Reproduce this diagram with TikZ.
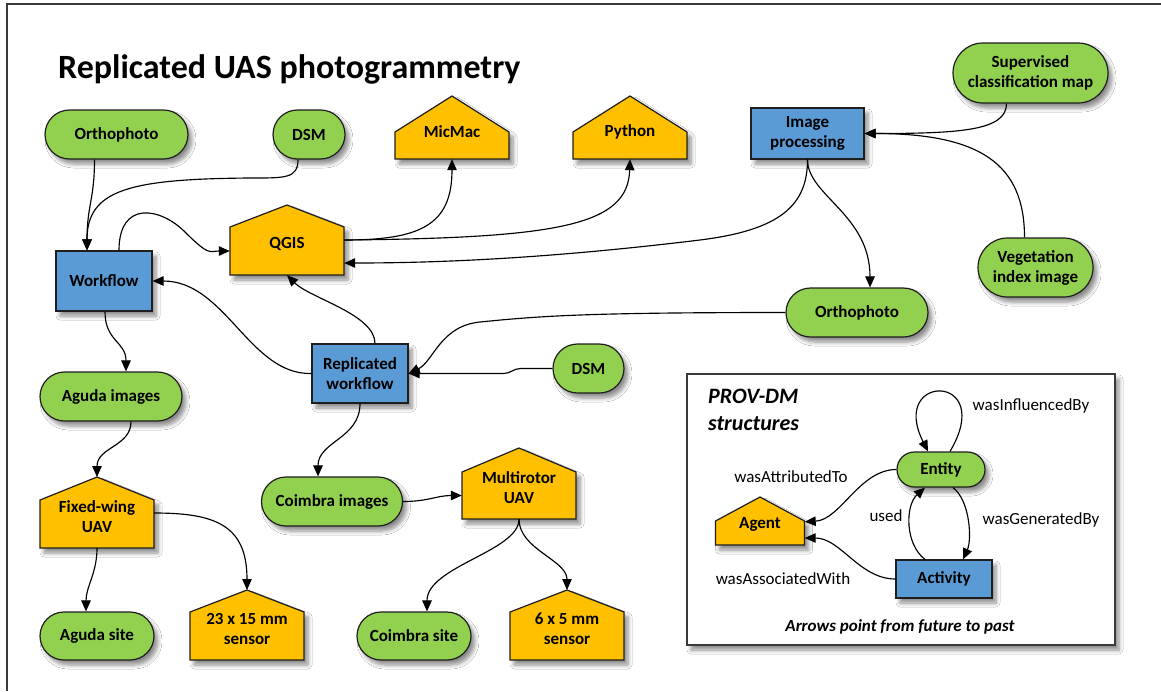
\documentclass[tikz,border=0pt]{standalone}
\usepackage{fontspec}
\setmainfont{Carlito}
\usetikzlibrary{shapes.misc,arrows.meta,calc,shadows.blur}
\definecolor{entg}{HTML}{92D050}
\definecolor{actb}{HTML}{5B9BD5}
\definecolor{agy}{HTML}{FFC000}
\definecolor{bord}{HTML}{1E1E1E}
\definecolor{framec}{HTML}{3A3A3A}
\newcommand\nodefont{\fontsize{17}{20}\selectfont\bfseries}
\newcommand\lblfont{\fontsize{17}{20}\selectfont}
\newcommand\housenode[6]{% name, cx, half width, peak y, eave y, bottom y
  \path[housepath] ({#2-#3},#6) -- ({#2-#3},#5) -- (#2,#4) -- ({#2+#3},#5) -- ({#2+#3},#6) -- cycle;
  \node[hbody, minimum width={2*(#3)}, minimum height={#6-#5}] (#1) at (#2,{(#5+#6)/2}) {};
  \coordinate (#1-peak) at (#2,#4);
}
\tikzset{
  shad/.style={blur shadow={shadow xshift=4pt, shadow yshift=-5pt, shadow blur radius=4pt, shadow opacity=45, shadow blur steps=6}},
  ent/.style={rounded rectangle, draw=bord, line width=1.2pt, fill=entg, shad, font=\nodefont, align=center, inner sep=0pt},
  act/.style={rectangle, draw=bord, line width=1.2pt, fill=actb, shad, font=\nodefont, align=center, inner sep=0pt},
  housepath/.style={draw=bord, line width=1.2pt, fill=agy, shad, line join=miter},
  hbody/.style={rectangle, inner sep=0pt, draw=none},
  htext/.style={font=\nodefont, align=center, inner sep=0pt},
  arr/.style={draw=black, line width=1.15pt, -{Triangle[length=11pt,width=9.5pt]}},
  lbl/.style={font=\lblfont, inner sep=0pt},
}
\begin{document}
\begin{tikzpicture}[x=1pt,y=-1pt]
\useasboundingbox (0,0) rectangle (1161,691);
\fill[white] (0,0) rectangle (1161,691);
\draw[line width=1.6pt, draw=framec] (7,691) -- (7,4) -- (1161,4);

% title
\node[anchor=base west, inner sep=0pt, font=\fontsize{34}{40}\selectfont\bfseries] (title) at (58,78) {Replicated UAS photogrammetry};

% PROV-DM box
\node[draw=framec, line width=1.3pt, fill=white, shad, minimum width=428, minimum height=271, inner sep=0pt] (provbox) at (901,509.5) {};

% entities (green)
\node[ent, minimum width=143, minimum height=49] (o1) at (116.5,134.5) {Orthophoto};
\node[ent, minimum width=72, minimum height=49] (dsm1) at (309,134.5) {DSM};
\node[ent, minimum width=155, minimum height=60] (sup) at (1030.5,73) {Supervised\\classification map};
\node[ent, minimum width=115, minimum height=59] (veg) at (1035.5,267.5) {Vegetation\\index image};
\node[ent, minimum width=142, minimum height=49] (o2) at (857,312.5) {Orthophoto};
\node[ent, minimum width=71, minimum height=49] (dsm2) at (588.5,368.5) {DSM};
\node[ent, minimum width=142, minimum height=49] (agi) at (111,396.5) {Aguda images};
\node[ent, minimum width=141, minimum height=49] (coi) at (332,501.5) {Coimbra images};
\node[ent, minimum width=114, minimum height=48] (ags) at (97,636) {Aguda site};
\node[ent, minimum width=114, minimum height=48] (cos) at (414,636) {Coimbra site};
\node[ent, minimum width=88, minimum height=35] (entity) at (941,469.5) {Entity};

% activities (blue)
\node[act, minimum width=96, minimum height=60] (wf) at (104,281) {Workflow};
\node[act, minimum width=113, minimum height=51] (ip) at (807.5,133.5) {Image\\processing};
\node[act, minimum width=96, minimum height=59] (rw) at (360,373.5) {Replicated\\workflow};
\node[act, minimum width=96, minimum height=38] (activity) at (944,579) {Activity};

% agents (houses)
\housenode{micmac}{452}{57}{96}{132}{159}
\node[htext] (micmac-t) at (452,132) {MicMac};
\housenode{python}{630}{57}{96}{132}{159}
\node[htext] (python-t) at (630,132) {Python};
\housenode{qgis}{287}{57}{205}{227}{275}
\node[htext] (qgis-t) at (287,244) {QGIS};
\housenode{fw}{97}{57}{477}{500}{548}
\node[htext] (fw-t) at (97,517) {Fixed-wing\\UAV};
\housenode{mr}{519}{57}{448}{472}{519}
\node[htext] (mr-t) at (519,488) {Multirotor\\UAV};
\housenode{sa}{247}{57}{590}{612}{660}
\node[htext] (sa-t) at (247,628.5) {23 x 15 mm\\sensor};
\housenode{sb}{567}{57}{590}{612}{660}
\node[htext] (sb-t) at (567,628.5) {6 x 5 mm\\sensor};
\housenode{agent}{760}{44.5}{497}{521}{545}
\node[htext] (agent-t) at (760,524) {Agent};

% connectors
\draw[arr] ($(o1.south)+(-22,0)$) .. controls +(0,40) and +(0,-45) .. ($(wf.north)+(-17,0)$);
\draw[arr] ($(dsm1.south)+(-11,0)$) .. controls +(0,19) and +(35,0) .. (250,178) .. controls +(-120,1) and +(0,-61) .. ($(wf.north)+(-17,0)$);
\draw[arr] ($(wf.north)+(15,0)$) .. controls +(0,-50) and +(-25,-25) .. (185,232) .. controls +(25,25) and +(-20,0) .. (qgis.west);
\draw[arr] ($(qgis.east)+(0,-11)$) .. controls +(76,0) and +(0,66) .. (micmac.south);
\draw[arr] ($(qgis.east)+(0,-11)$) .. controls +(216,-2) and +(-2,66) .. (python.south);
\draw[arr] (ip.south) .. controls +(0,46) and +(80,-10) .. (700,240) .. controls +(-140,17) and +(106,0) .. ($(qgis.east)+(0,12)$);
\draw[arr] (ip.south) .. controls +(0,36) and +(0,-73) .. ($(o2.north)+(13,0)$);
\draw[arr] ($(sup.south)+(-24,0)$) .. controls +(0,27) and +(96,0) .. (ip.east);
\draw[arr] ($(veg.north)+(-11,0)$) .. controls +(0,-73) and +(116,0) .. (ip.east);
\draw[arr] (o2.west) .. controls +(-200,0) and +(60,-6) .. (480,322) .. controls +(-40,4) and +(25,-12) .. (rw.east);
\draw[arr] (dsm2.west) -- ($(dsm2.west)+(-32,0)$) to[out=180,in=0] ($(rw.east)+(95,0)$) -- (rw.east);
\draw[arr] ($(rw.north)+(15,0)$) .. controls +(0,-29) and +(23,23) .. (qgis.south);
\draw[arr] (rw.west) .. controls +(-62,1.5) and +(73,0) .. (wf.east);
\draw[arr] ($(wf.south)+(1,0)$) .. controls +(0,30) and +(0,-30) .. ($(agi.north)+(15,0)$);
\draw[arr] ($(agi.south)+(20,0)$) .. controls +(0,25) and +(0,-30) .. (fw-peak);
\draw[arr] (fw.south) .. controls +(0,25) and +(0,-25) .. ($(ags.north)+(-11,0)$);
\draw[arr] ($(fw.east)+(0,-11)$) .. controls +(61,0) and +(0,-65) .. (sa-peak);
\draw[arr] (rw.south) .. controls +(0,35) and +(0,-35) .. ($(coi.north)+(-14,0)$);
\draw[arr] (coi.east) .. controls +(25,0) and +(-25,0) .. (mr.west);
\draw[arr] (mr.south) .. controls +(0,32) and +(0,-45) .. ($(cos.north)+(13,0)$);
\draw[arr] (mr.south) .. controls +(0,30) and +(0,-30) .. (sb-peak);

% PROV-DM legend
\node[anchor=base west, inner sep=0pt, font=\fontsize{22}{28}\selectfont\bfseries\itshape] (prov1) at (708,403) {PROV-DM};
\node[anchor=base west, inner sep=0pt, font=\fontsize{22}{28}\selectfont\bfseries\itshape] (prov2) at (708,430) {structures};
\draw[arr] ($(entity.north)+(9,0)$) .. controls +(47,-79) and +(-40,-79) .. ($(entity.north)+(-13,0)$);
\draw[arr] (entity.west) .. controls +(-37,0) and +(36,-2) .. ($(agent.north east)+(0,1)$);
\draw[arr] (activity.west) .. controls +(-36,0) and +(36,0) .. ($(agent.east)+(0,5)$);
\draw[arr] ($(activity.north)+(-19,0)$) .. controls +(-20,-15) and +(-20,18) .. ($(entity.south)+(-16,0)$);
\draw[arr] ($(entity.south)+(12,0)$) .. controls +(17,13) and +(9,-20) .. ($(activity.north)+(19,0)$);
\node[lbl] (l1) at (1031,406) {wasInfluencedBy};
\node[lbl] (l2) at (791,477) {wasAttributedTo};
\node[lbl] (l3) at (886,516) {used};
\node[lbl] (l4) at (1041,520) {wasGeneratedBy};
\node[lbl] (l5) at (783,579) {wasAssociatedWith};
\node[lbl, font=\fontsize{17}{20}\selectfont\bfseries\itshape] (l6) at (900,627) {Arrows point from future to past};
\end{tikzpicture}
\end{document}
